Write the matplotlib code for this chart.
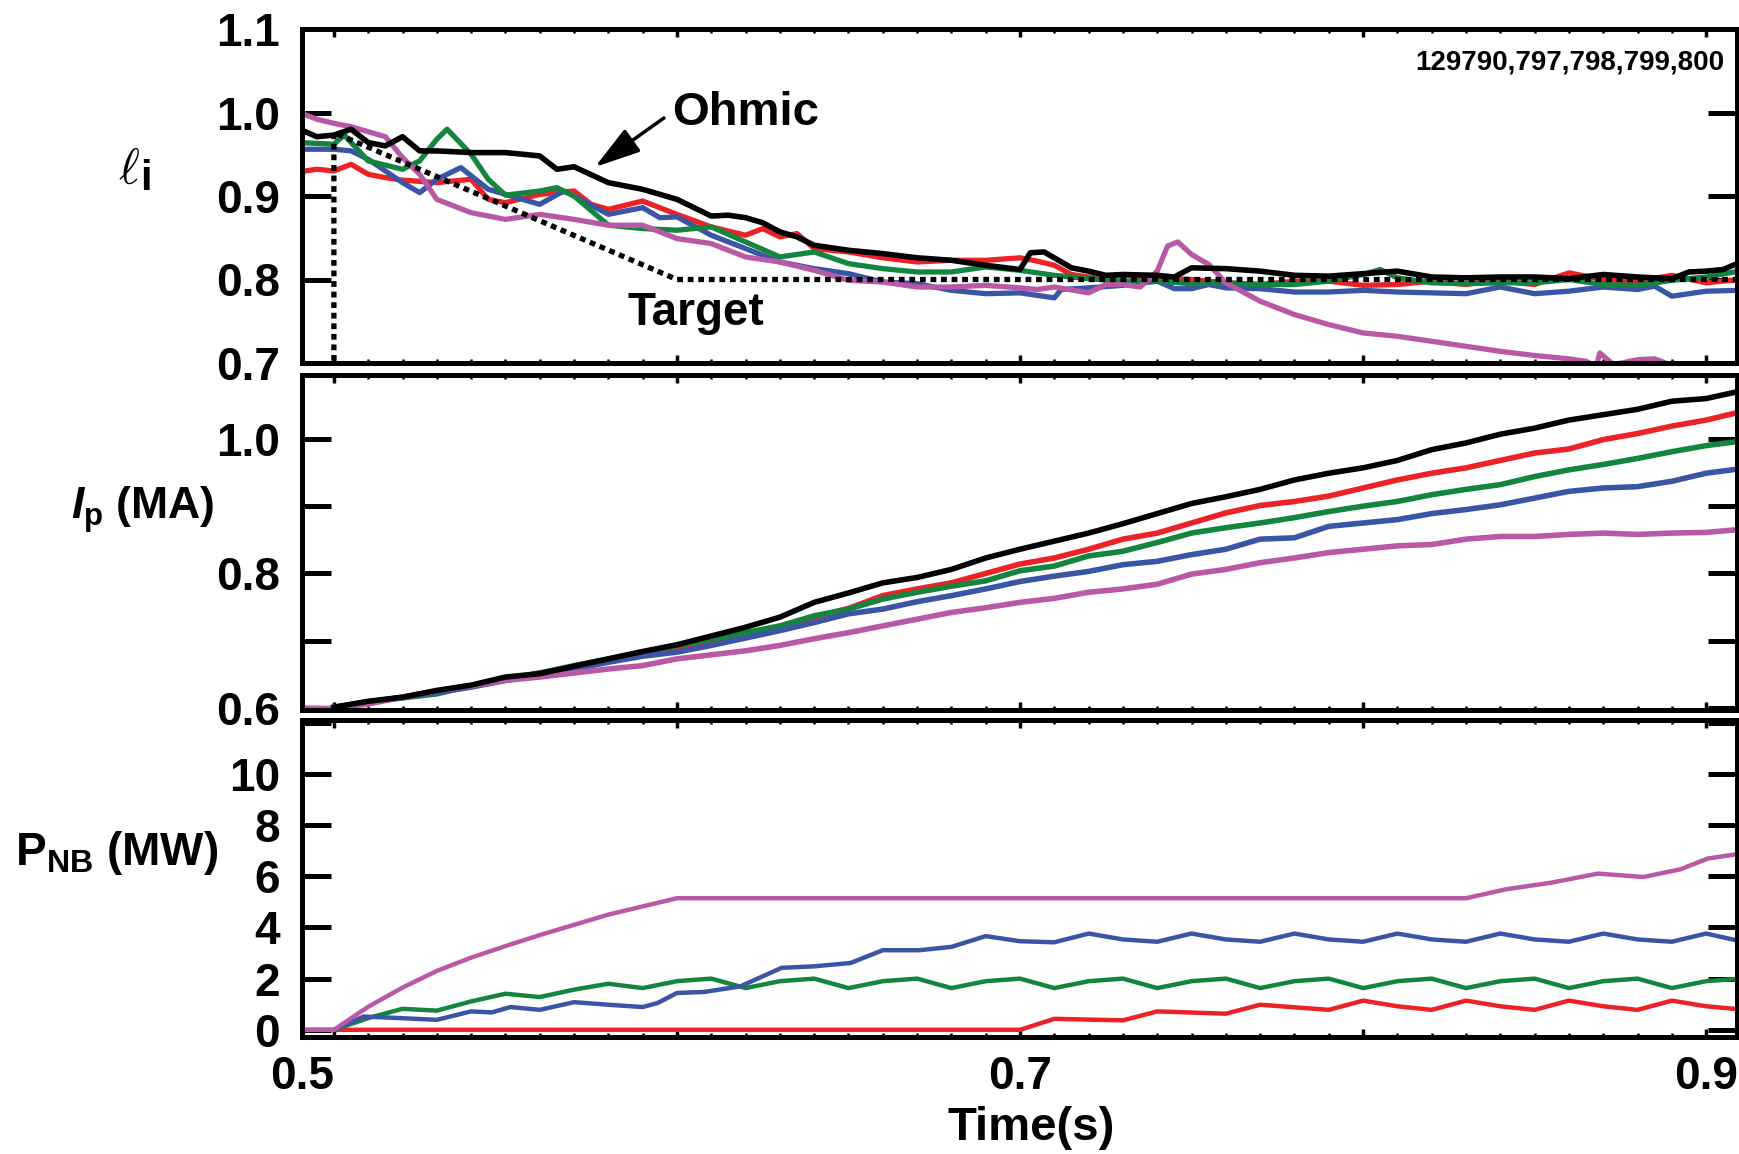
import matplotlib
matplotlib.use("Agg")
from matplotlib import pyplot as plt
from matplotlib import font_manager
from matplotlib.ticker import FixedLocator, FixedFormatter, MultipleLocator

# colours of the five shots
RED = "#ec2227"
GREEN = "#13853f"
BLUE = "#3b55a6"
MAGENTA = "#b958a5"
BLACK = "#000000"

T_MIN, T_MAX = 0.4907, 0.909

# ---- internal inductance li ----
li_black_t = [0.49, 0.495, 0.50, 0.505, 0.51, 0.515, 0.52, 0.525, 0.53, 0.54, 0.55, 0.56, 0.565, 0.57,
              0.58, 0.59, 0.60, 0.61, 0.615, 0.62, 0.625, 0.63, 0.635, 0.64, 0.65, 0.66, 0.67, 0.68,
              0.69, 0.70, 0.703, 0.707, 0.71, 0.715, 0.72, 0.725, 0.73, 0.74, 0.745, 0.75, 0.76, 0.77,
              0.78, 0.79, 0.80, 0.81, 0.82, 0.83, 0.84, 0.85, 0.86, 0.87, 0.88, 0.89, 0.895, 0.90,
              0.905, 0.9096]
li_black = [0.980, 0.971, 0.973, 0.980, 0.964, 0.960, 0.971, 0.954, 0.954, 0.952, 0.952, 0.948, 0.932,
            0.935, 0.916, 0.908, 0.896, 0.876, 0.877, 0.874, 0.868, 0.857, 0.851, 0.841, 0.835, 0.831,
            0.826, 0.823, 0.817, 0.812, 0.832, 0.833, 0.826, 0.814, 0.810, 0.805, 0.806, 0.805, 0.803,
            0.814, 0.813, 0.810, 0.805, 0.804, 0.807, 0.810, 0.803, 0.802, 0.803, 0.803, 0.801, 0.806,
            0.803, 0.801, 0.809, 0.810, 0.812, 0.820]

li_red_t = [0.49, 0.495, 0.50, 0.505, 0.51, 0.515, 0.52, 0.53, 0.54, 0.545, 0.55, 0.56, 0.57, 0.575,
            0.58, 0.59, 0.60, 0.61, 0.62, 0.625, 0.63, 0.635, 0.64, 0.65, 0.66, 0.67, 0.68, 0.69, 0.70,
            0.705, 0.71, 0.715, 0.72, 0.73, 0.74, 0.75, 0.76, 0.77, 0.78, 0.79, 0.80, 0.81, 0.82, 0.83,
            0.84, 0.845, 0.85, 0.86, 0.87, 0.88, 0.89, 0.90, 0.9096]
li_red = [0.929, 0.932, 0.930, 0.938, 0.926, 0.922, 0.919, 0.916, 0.920, 0.896, 0.892, 0.902, 0.906,
          0.890, 0.884, 0.894, 0.878, 0.863, 0.853, 0.861, 0.851, 0.855, 0.837, 0.833, 0.826, 0.821,
          0.823, 0.823, 0.826, 0.822, 0.817, 0.806, 0.803, 0.805, 0.802, 0.800, 0.796, 0.794, 0.798,
          0.798, 0.793, 0.794, 0.798, 0.794, 0.800, 0.796, 0.794, 0.808, 0.800, 0.798, 0.805, 0.796,
          0.800]

li_green_t = [0.49, 0.50, 0.503, 0.51, 0.52, 0.525, 0.53, 0.533, 0.54, 0.545, 0.55, 0.56, 0.565, 0.57,
              0.58, 0.59, 0.60, 0.61, 0.62, 0.63, 0.64, 0.65, 0.66, 0.67, 0.68, 0.69, 0.70, 0.71, 0.72,
              0.73, 0.74, 0.75, 0.76, 0.77, 0.78, 0.79, 0.80, 0.805, 0.81, 0.82, 0.83, 0.84, 0.85, 0.86,
              0.87, 0.88, 0.89, 0.90, 0.9096]
li_green = [0.964, 0.962, 0.973, 0.942, 0.932, 0.942, 0.968, 0.980, 0.950, 0.920, 0.901, 0.906, 0.910,
            0.900, 0.865, 0.861, 0.859, 0.863, 0.845, 0.827, 0.833, 0.819, 0.813, 0.809, 0.809, 0.815,
            0.811, 0.805, 0.801, 0.798, 0.798, 0.795, 0.796, 0.794, 0.794, 0.798, 0.806, 0.812, 0.802,
            0.796, 0.795, 0.796, 0.796, 0.800, 0.794, 0.793, 0.799, 0.803, 0.810]

li_blue_t = [0.49, 0.50, 0.505, 0.51, 0.52, 0.525, 0.53, 0.537, 0.545, 0.55, 0.56, 0.567, 0.57, 0.58,
             0.59, 0.595, 0.60, 0.61, 0.62, 0.63, 0.64, 0.65, 0.66, 0.67, 0.68, 0.69, 0.70, 0.71, 0.712,
             0.72, 0.73, 0.74, 0.745, 0.75, 0.755, 0.76, 0.77, 0.78, 0.79, 0.80, 0.81, 0.82, 0.83, 0.84,
             0.85, 0.86, 0.87, 0.88, 0.885, 0.89, 0.90, 0.9096]
li_blue = [0.956, 0.956, 0.954, 0.944, 0.916, 0.904, 0.920, 0.934, 0.908, 0.902, 0.890, 0.906, 0.900,
           0.878, 0.886, 0.874, 0.875, 0.853, 0.837, 0.821, 0.813, 0.807, 0.797, 0.795, 0.787, 0.783,
           0.784, 0.778, 0.788, 0.790, 0.793, 0.798, 0.789, 0.789, 0.794, 0.790, 0.789, 0.785, 0.785,
           0.787, 0.785, 0.784, 0.783, 0.791, 0.783, 0.786, 0.791, 0.788, 0.792, 0.780, 0.786, 0.787]

li_magenta_t = [0.49, 0.495, 0.50, 0.505, 0.51, 0.515, 0.52, 0.525, 0.53, 0.54, 0.55, 0.56, 0.57, 0.58,
                0.59, 0.60, 0.61, 0.62, 0.63, 0.64, 0.65, 0.66, 0.67, 0.68, 0.69, 0.70, 0.705, 0.71,
                0.72, 0.725, 0.73, 0.735, 0.74, 0.743, 0.746, 0.75, 0.755, 0.76, 0.77, 0.78, 0.79,
                0.80, 0.81, 0.82, 0.83, 0.84, 0.85, 0.86, 0.865, 0.868, 0.869, 0.873, 0.88, 0.885,
                0.89, 0.895, 0.90, 0.9096]
li_magenta = [1.000, 0.992, 0.987, 0.983, 0.977, 0.971, 0.946, 0.926, 0.896, 0.880, 0.872, 0.878,
              0.872, 0.865, 0.865, 0.849, 0.843, 0.827, 0.821, 0.811, 0.799, 0.797, 0.791, 0.791,
              0.793, 0.790, 0.788, 0.791, 0.784, 0.794, 0.794, 0.791, 0.810, 0.840, 0.845, 0.830,
              0.818, 0.796, 0.774, 0.758, 0.746, 0.736, 0.732, 0.726, 0.720, 0.714, 0.709, 0.705,
              0.702, 0.696, 0.712, 0.698, 0.704, 0.705, 0.697, 0.699, 0.690, 0.688]

target_t = [0.5, 0.5, 0.6, 0.909]
target_li = [0.69, 0.976, 0.80, 0.80]

# ---- plasma current Ip (MA) ----
ip_t = [0.50, 0.51, 0.52, 0.53, 0.54, 0.55, 0.56, 0.57, 0.58, 0.59, 0.60,
        0.61, 0.62, 0.63, 0.64, 0.65, 0.66, 0.67, 0.68, 0.69, 0.70,
        0.71, 0.72, 0.73, 0.74, 0.75, 0.76, 0.77, 0.78, 0.79, 0.80,
        0.81, 0.82, 0.83, 0.84, 0.85, 0.86, 0.87, 0.88, 0.89, 0.90, 0.909]
ip_black = [0.601, 0.610, 0.616, 0.626, 0.634, 0.646, 0.651, 0.662, 0.673, 0.684, 0.694,
            0.707, 0.720, 0.735, 0.757, 0.771, 0.786, 0.794, 0.806, 0.823, 0.836,
            0.848, 0.860, 0.874, 0.889, 0.904, 0.914, 0.925, 0.939, 0.949, 0.957,
            0.968, 0.984, 0.994, 1.007, 1.016, 1.028, 1.036, 1.044, 1.056, 1.060, 1.070]
ip_red = [0.601, 0.609, 0.616, 0.625, 0.633, 0.642, 0.652, 0.661, 0.669, 0.678, 0.688,
          0.698, 0.710, 0.720, 0.735, 0.748, 0.767, 0.777, 0.786, 0.800, 0.814,
          0.823, 0.836, 0.851, 0.860, 0.875, 0.890, 0.901, 0.907, 0.915, 0.927,
          0.939, 0.949, 0.957, 0.968, 0.979, 0.985, 0.999, 1.008, 1.019, 1.028, 1.039]
ip_green = [0.601, 0.609, 0.615, 0.621, 0.633, 0.643, 0.652, 0.663, 0.673, 0.683, 0.693,
            0.702, 0.712, 0.722, 0.737, 0.747, 0.762, 0.772, 0.781, 0.789, 0.804,
            0.811, 0.826, 0.833, 0.846, 0.860, 0.868, 0.875, 0.883, 0.892, 0.900,
            0.907, 0.917, 0.925, 0.932, 0.944, 0.954, 0.962, 0.971, 0.981, 0.990, 0.996]
ip_blue = [0.601, 0.609, 0.616, 0.623, 0.631, 0.641, 0.649, 0.658, 0.668, 0.677, 0.683,
           0.693, 0.704, 0.715, 0.727, 0.740, 0.747, 0.758, 0.767, 0.777, 0.788,
           0.796, 0.803, 0.813, 0.818, 0.828, 0.836, 0.851, 0.853, 0.870, 0.875,
           0.880, 0.889, 0.895, 0.902, 0.912, 0.922, 0.927, 0.929, 0.937, 0.949, 0.955]
ip_magenta_t = [0.49] + ip_t
ip_magenta = [0.600, 0.599, 0.606, 0.616, 0.626, 0.633, 0.641, 0.646, 0.652, 0.658, 0.663, 0.673,
              0.679, 0.685, 0.693, 0.703, 0.712, 0.722, 0.732, 0.742, 0.749, 0.757,
              0.763, 0.772, 0.777, 0.784, 0.799, 0.806, 0.816, 0.823, 0.831, 0.836,
              0.841, 0.843, 0.851, 0.855, 0.855, 0.858, 0.860, 0.858, 0.860, 0.861, 0.865]

# ---- neutral beam power PNB (MW) ----
pnb_t = ip_t
pnb_green = [0.0, 0.46, 0.82, 0.75, 1.11, 1.41, 1.28, 1.57, 1.80, 1.63, 1.90,
             2.00, 1.63, 1.90, 2.00, 1.63, 1.90, 2.00, 1.63, 1.90, 2.00,
             1.63, 1.90, 2.00, 1.63, 1.90, 2.00, 1.63, 1.90, 2.00, 1.63,
             1.90, 2.00, 1.63, 1.90, 2.00, 1.63, 1.90, 2.00, 1.63, 1.90, 1.99]
pnb_blue_t = [0.50, 0.5087, 0.519, 0.53, 0.54, 0.546, 0.5515, 0.56, 0.57, 0.58, 0.59, 0.5944, 0.60,
              0.608, 0.6185, 0.6305, 0.64, 0.6506, 0.66, 0.6707, 0.68, 0.69,
              0.70, 0.71, 0.72, 0.73, 0.74, 0.75, 0.76, 0.77, 0.78, 0.79, 0.80,
              0.81, 0.82, 0.83, 0.84, 0.85, 0.86, 0.87, 0.88, 0.89, 0.90, 0.909]
pnb_blue = [0.0, 0.52, 0.46, 0.39, 0.72, 0.68, 0.89, 0.78, 1.08, 0.98, 0.89, 1.05, 1.44,
            1.48, 1.70, 2.42, 2.48, 2.61, 3.11, 3.11, 3.24, 3.66,
            3.46, 3.42, 3.76, 3.53, 3.44, 3.76, 3.53, 3.44, 3.76, 3.53, 3.44,
            3.76, 3.53, 3.44, 3.76, 3.53, 3.44, 3.76, 3.53, 3.44, 3.76, 3.49]
pnb_red_t = [0.4907, 0.70, 0.71, 0.73, 0.74, 0.76, 0.77, 0.79, 0.80, 0.81, 0.82, 0.83, 0.84, 0.85,
             0.86, 0.87, 0.88, 0.89, 0.90, 0.909]
pnb_red = [0.0, 0.0, 0.43, 0.37, 0.72, 0.63, 0.98, 0.78, 1.14, 0.92, 0.78, 1.14, 0.92, 0.78,
           1.14, 0.92, 0.78, 1.14, 0.92, 0.81]
pnb_magenta_t = [0.4907, 0.50, 0.505, 0.51, 0.52, 0.53, 0.54, 0.55, 0.56, 0.57, 0.58, 0.59, 0.60,
                 0.83, 0.8417, 0.855, 0.8684, 0.8818, 0.8925, 0.9005, 0.909]
pnb_magenta = [0.0, 0.0, 0.45, 0.90, 1.65, 2.30, 2.82, 3.27, 3.70, 4.10, 4.50, 4.82, 5.14,
               5.14, 5.49, 5.75, 6.10, 5.97, 6.27, 6.69, 6.86]

SHOT_LABEL = "129790,797,798,799,800"

names = {f.name for f in font_manager.fontManager.ttflist}
FONT = "Liberation Sans Narrow" if "Liberation Sans Narrow" in names else "Liberation Sans"

plt.rcParams["font.family"] = [FONT, "DejaVu Sans"]
plt.rcParams["font.weight"] = "bold"
plt.rcParams["mathtext.fontset"] = "custom"
plt.rcParams["mathtext.rm"] = FONT + ":bold"
plt.rcParams["mathtext.bf"] = FONT + ":bold"
plt.rcParams["mathtext.it"] = FONT + ":italic:bold"

W, H = 1739, 1154
fig = plt.figure(figsize=(W / 100, H / 100), dpi=100)


def px_axes(left, top, right, bottom):
    return fig.add_axes([left / W, 1 - bottom / H, (right - left) / W, (bottom - top) / H])


ax1 = px_axes(302, 29, 1737, 363)
ax2 = px_axes(302, 375, 1737, 710)
ax3 = px_axes(302, 720, 1737, 1037)

for ax in (ax1, ax2, ax3):
    for s in ax.spines.values():
        s.set_linewidth(3.6)
    ax.set_xlim(T_MIN, T_MAX)
    ax.xaxis.set_major_locator(FixedLocator([0.5, 0.6, 0.7, 0.8, 0.9]))
    ax.xaxis.set_minor_locator(MultipleLocator(0.01))
    ax.tick_params(axis="x", which="major", direction="in", top=True, bottom=True,
                   length=6, width=2.5, labelsize=33, pad=13)
    ax.tick_params(axis="x", which="minor", direction="in", top=True, bottom=True,
                   length=3, width=1.8)
    ax.tick_params(axis="y", which="major", direction="in", left=True, right=True,
                   length=21, width=3.6, labelsize=33, pad=16)
    ax.tick_params(axis="y", which="minor", left=False, right=False)

ax1.tick_params(axis="x", labelbottom=False)
ax2.tick_params(axis="x", labelbottom=False)
ax3.xaxis.set_major_formatter(FixedFormatter(["0.5", "", "0.7", "", "0.9"]))
ax3.get_xticklabels()[0].set_horizontalalignment("right")

# li panel
ax1.set_ylim(0.7, 1.1)
ax1.yaxis.set_major_locator(FixedLocator([0.7, 0.8, 0.9, 1.0, 1.1]))
ax1.yaxis.set_major_formatter(FixedFormatter(["0.7", "0.8", "0.9", "1.0", "1.1"]))
ax1.plot(li_red_t, li_red, color=RED, lw=3.8)
ax1.plot(li_blue_t, li_blue, color=BLUE, lw=3.8)
ax1.plot(li_green_t, li_green, color=GREEN, lw=3.8)
ax1.plot(li_magenta_t, li_magenta, color=MAGENTA, lw=3.8)
ax1.plot(li_black_t, li_black, color=BLACK, lw=4)
ax1.plot(target_t, target_li, color=BLACK, lw=3.8, linestyle=(0, (1.1, 0.9)))
ax1.annotate("", xy=(0.5761, 0.9347), xytext=(0.5962, 0.9934),
             arrowprops=dict(arrowstyle="-|>,head_length=1.0,head_width=0.3",
                             mutation_scale=28, lw=2.5, color=BLACK, shrinkA=0, shrinkB=0))
ax1.text(0.5985, 0.985, "Ohmic", fontsize=34, ha="left", va="baseline")
ax1.text(0.5857, 0.7455, "Target", fontsize=33, ha="left", va="baseline")
ax1.text(0.9052, 1.051, SHOT_LABEL, fontsize=20, ha="right", va="baseline")

# Ip panel
ax2.set_ylim(0.597, 1.095)
ax2.yaxis.set_major_locator(FixedLocator([0.6, 0.7, 0.8, 0.9, 1.0]))
ax2.yaxis.set_major_formatter(FixedFormatter(["0.6", "", "0.8", "", "1.0"]))
ax2.plot(ip_t, ip_red, color=RED, lw=4)
ax2.plot(ip_t, ip_green, color=GREEN, lw=4)
ax2.plot(ip_t, ip_blue, color=BLUE, lw=4)
ax2.plot(ip_magenta_t, ip_magenta, color=MAGENTA, lw=4)
ax2.plot(ip_t, ip_black, color=BLACK, lw=4)

# PNB panel
ax3.set_ylim(-0.28, 12.1)
ax3.yaxis.set_major_locator(FixedLocator([0, 2, 4, 6, 8, 10, 12]))
ax3.yaxis.set_major_formatter(FixedFormatter(["0", "2", "4", "6", "8", "10", ""]))
ax3.plot(pnb_red_t, pnb_red, color=RED, lw=3.2)
ax3.plot(pnb_t, pnb_green, color=GREEN, lw=3.2)
ax3.plot(pnb_blue_t, pnb_blue, color=BLUE, lw=3.2)
ax3.plot(pnb_magenta_t, pnb_magenta, color=MAGENTA, lw=3.2)

# axis labels, placed in pixel positions like the original figure
fig.text(129 / W, 1 - 171 / H, r"$\ell$", fontsize=36, ha="center", va="center",
         math_fontfamily="cm")
fig.text(146 / W, 1 - 179 / H, "i", fontsize=30, ha="center", va="center")
fig.text(143 / W, 1 - 510 / H, r"$\mathit{I}_\mathrm{p}$ (MA)", fontsize=32, ha="center", va="center")
fig.text(117 / W, 1 - 853 / H, r"P$_\mathrm{NB}$ (MW)", fontsize=33, ha="center", va="center")
fig.text(1031 / W, 1 - 1128 / H, "Time(s)", fontsize=34, ha="center", va="center")

fig.savefig("out.png", dpi=100)
